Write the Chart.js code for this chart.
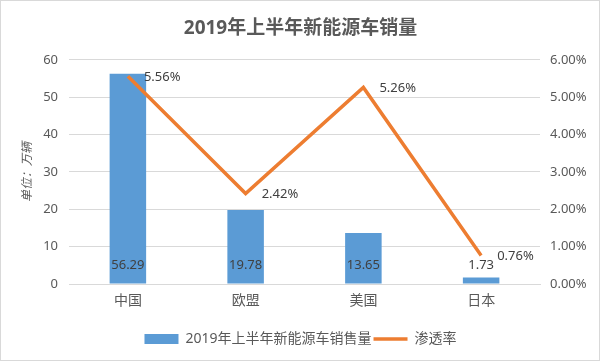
<!DOCTYPE html>
<html>
<head>
<meta charset="utf-8">
<script src="https://cdn.jsdelivr.net/npm/chart.js@4/dist/chart.umd.min.js"></script>
<style>
    html, body { margin: 0; padding: 0; background: #fff; }
    #wrap { width: 601px; height: 362px; }
</style>
</head>
<body>
<div id="wrap"><canvas id="chart" width="601" height="362"></canvas></div>
<script>
"use strict";

const categories = ["中国", "欧盟", "美国", "日本"];
const sales = [56.29, 19.78, 13.65, 1.73];   // 万辆
const rates = [5.56, 2.42, 5.26, 0.76];      // %
const seriesNames = ["2019年上半年新能源车销售量", "渗透率"];

const COLOR_BAR = "#5b9bd5";
const COLOR_LINE = "#ed7d31";
const COLOR_TEXT = "#595959";
const COLOR_GRID = "#d9d9d9";
const FONT = "'Noto Sans', 'Noto Sans CJK SC', sans-serif";

// white page + thin grey frame like the office chart
const frame = {
    id: "frame",
    beforeDraw (chart) {
        const ctx = chart.ctx;
        ctx.save();
        ctx.fillStyle = "#fff";
        ctx.fillRect(0, 0, chart.width, chart.height);
        ctx.strokeStyle = COLOR_GRID;
        ctx.lineWidth = 1;
        ctx.strokeRect(0.5, 0.5, 599, 360);
        ctx.restore();
    }
};

// value labels: bars at the base, line to the right of each point
const valueLabels = {
    id: "valueLabels",
    afterDatasetsDraw (chart) {
        const ctx = chart.ctx;
        ctx.save();
        ctx.font = "13px " + FONT;
        ctx.fillStyle = "#404040";
        ctx.textBaseline = "middle";

        ctx.textAlign = "center";
        chart.getDatasetMeta(1).data.forEach((bar, i) => {
            ctx.fillText(sales[i].toFixed(2), bar.x, bar.base - 18);
        });

        ctx.textAlign = "left";
        chart.getDatasetMeta(0).data.forEach((pt, i) => {
            ctx.fillText(rates[i].toFixed(2) + "%", pt.x + 16, pt.y + 1);
        });
        ctx.restore();
    }
};

new Chart(document.getElementById("chart"), {
    data: {
        labels: categories,
        datasets: [{
            type: "line",
            label: seriesNames[1],
            data: rates,
            yAxisID: "y1",
            borderColor: COLOR_LINE,
            backgroundColor: COLOR_LINE,
            borderWidth: 3.5,
            pointRadius: 0,
            tension: 0,
            order: 0
        }, {
            type: "bar",
            label: seriesNames[0],
            data: sales,
            yAxisID: "y",
            backgroundColor: COLOR_BAR,
            barPercentage: 0.31,
            categoryPercentage: 1,
            order: 1
        }]
    },
    options: {
        responsive: false,
        animation: false,
        devicePixelRatio: 1,
        layout: { padding: { left: 0, right: 0, top: 0, bottom: 6 } },
        plugins: {
            title: {
                display: true,
                text: "2019年上半年新能源车销量",
                color: COLOR_TEXT,
                font: { family: FONT, size: 19, weight: "bold" },
                padding: { top: 17, bottom: 20 }
            },
            legend: {
                position: "bottom",
                reverse: true,
                labels: {
                    color: COLOR_TEXT,
                    font: { family: FONT, size: 14 },
                    usePointStyle: true,
                    pointStyleWidth: 34,
                    boxHeight: 10,
                    padding: 2,
                    generateLabels (chart) {
                        const items = Chart.defaults.plugins.legend.labels.generateLabels(chart);
                        items.forEach(item => {
                            if (item.datasetIndex === 1) {
                                item.pointStyle = "rect";
                                item.lineWidth = 0;
                            } else {
                                item.pointStyle = "line";
                                item.strokeStyle = COLOR_LINE;
                                item.lineWidth = 3.5;
                            }
                        });
                        return items;
                    }
                }
            },
            tooltip: { enabled: false }
        },
        scales: {
            x: {
                grid: { display: false, drawTicks: false },
                border: { display: true, color: COLOR_GRID },
                ticks: { color: COLOR_TEXT, font: { family: FONT, size: 14 }, padding: 9 },
                afterFit (scale) { scale.height = 46; }
            },
            y: {
                position: "left",
                min: 0,
                max: 60,
                ticks: { stepSize: 10, color: COLOR_TEXT, font: { family: FONT, size: 13 }, padding: 11 },
                grid: { color: COLOR_GRID, drawTicks: false },
                border: { display: false },
                title: {
                    display: true,
                    text: "单位：万辆",
                    color: COLOR_TEXT,
                    font: { family: FONT, size: 12, style: "italic" },
                    padding: { top: 20 }
                },
                afterFit (scale) { scale.width = 69; }
            },
            y1: {
                position: "right",
                min: 0,
                max: 6,
                ticks: {
                    stepSize: 1,
                    color: COLOR_TEXT,
                    font: { family: FONT, size: 13 },
                    padding: 10,
                    callback: v => v.toFixed(2) + "%"
                },
                grid: { drawOnChartArea: false, drawTicks: false },
                border: { display: false },
                afterFit (scale) { scale.width = 61; }
            }
        }
    },
    plugins: [frame, valueLabels]
});
</script>
</body>
</html>
